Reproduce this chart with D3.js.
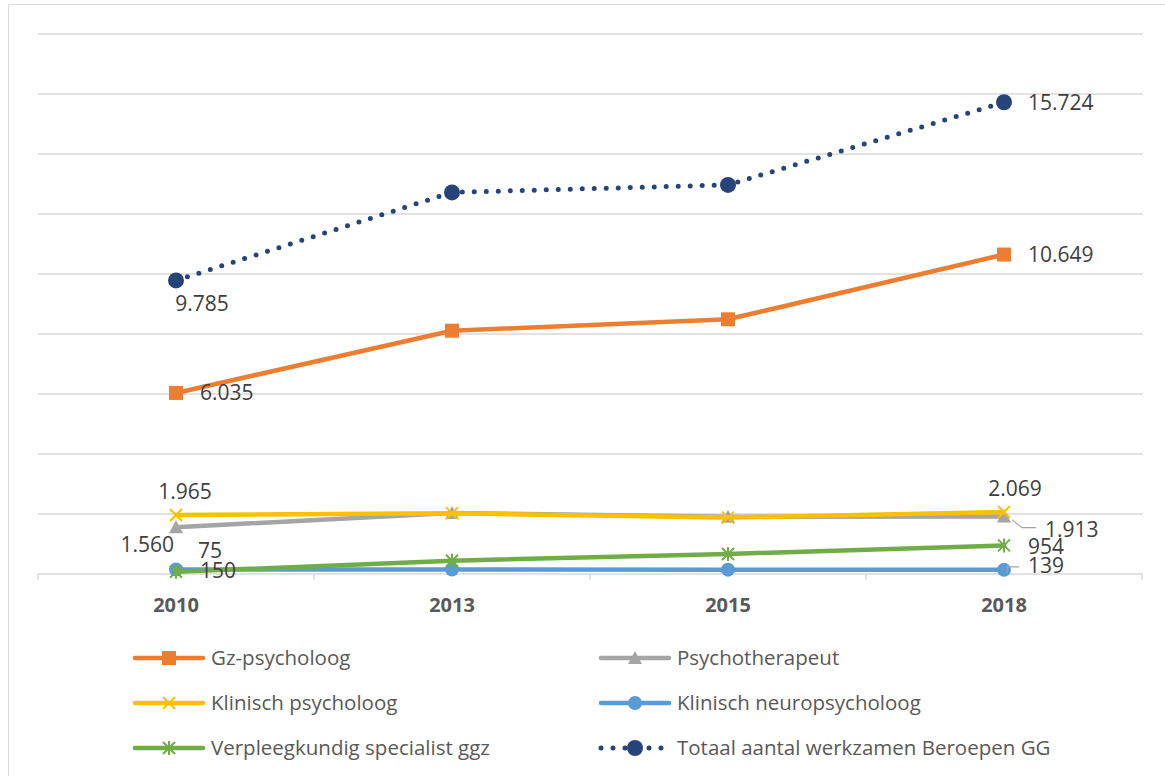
<!DOCTYPE html>
<html>
<head>
<meta charset="utf-8">
<script src="https://cdn.jsdelivr.net/npm/d3@7"></script>
<style>
  body { margin: 0; background: #fff; }
  svg { display: block; font-family: "Open Sans", "Noto Sans", sans-serif; }
</style>
</head>
<body>
<svg id="chart" width="1165" height="776"></svg>
<script>
const years = ["2010", "2013", "2015", "2018"];
const gzPsycholoog = [6035, 8110, 8490, 10649];
const psychotherapeut = [1560, 2030, 1910, 1913];
const klinischPsycholoog = [1965, 2025, 1880, 2069];
const klinischNeuro = [150, 150, 145, 139];
const verpleegkundig = [75, 443, 667, 954];
const totaal = [9785, 12720, 12970, 15724];
const yTicks = [0, 2000, 4000, 6000, 8000, 10000, 12000, 14000, 16000, 18000];

const series = [
  { name: "Gz-psycholoog", values: gzPsycholoog, color: "#ED7D31", marker: "square" },
  { name: "Psychotherapeut", values: psychotherapeut, color: "#A5A5A5", marker: "triangle" },
  { name: "Klinisch psycholoog", values: klinischPsycholoog, color: "#FFC000", marker: "x" },
  { name: "Klinisch neuropsycholoog", values: klinischNeuro, color: "#5B9BD5", marker: "circle" },
  { name: "Verpleegkundig specialist ggz", values: verpleegkundig, color: "#70AD47", marker: "star" },
  { name: "Totaal aantal werkzamen Beroepen GG", values: totaal, color: "#264478", marker: "bigcircle", dotted: true }
];

// which points carry a data label, and where it goes
const dataLabels = [
  { s: 5, i: 0, pos: "below", dx: 26, anchor: "middle" },
  { s: 5, i: 3, pos: "right" },
  { s: 0, i: 0, pos: "right" },
  { s: 0, i: 3, pos: "right" },
  { s: 2, i: 0, pos: "above", dx: 9 },
  { s: 2, i: 3, pos: "above", dx: 11 },
  { s: 1, i: 0, pos: "left", dy: 17 },
  { s: 1, i: 3, pos: "right", dx: 17, dy: 13, leader: true },
  { s: 4, i: 0, pos: "above", dx: 34, dy: 2 },
  { s: 4, i: 3, pos: "right", dy: 1 },
  { s: 3, i: 0, pos: "right", dy: 1 },
  { s: 3, i: 3, pos: "right", dy: -4, leader: true }
];

const fmt = v => d3.format(",")(v).replace(/,/g, ".");

const svg = d3.select("#chart");

// outer frame
svg.append("path")
  .attr("d", "M8.5,776 V4.5 H1165")
  .attr("fill", "none").attr("stroke", "#D9D9D9").attr("stroke-width", 1);

const x = d3.scalePoint().domain(years).range([38, 1142]).padding(0.5);
const y = d3.scaleLinear().domain([0, 18000]).range([574, 34]);

// gridlines
svg.append("g")
  .selectAll("line")
  .data(yTicks.slice(1))
  .join("line")
  .attr("x1", 38).attr("x2", 1143)
  .attr("y1", d => y(d)).attr("y2", d => y(d))
  .attr("stroke", "#D9D9D9").attr("stroke-width", 1.5);

// category axis
const bandW = (1142 - 38) / years.length;
const xAxis = svg.append("g");
xAxis.append("line")
  .attr("x1", 38).attr("x2", 1143).attr("y1", y(0)).attr("y2", y(0))
  .attr("stroke", "#D9D9D9").attr("stroke-width", 1.5);
xAxis.selectAll("line.tick")
  .data(d3.range(years.length + 1))
  .join("line").attr("class", "tick")
  .attr("x1", d => 38 + d * bandW).attr("x2", d => 38 + d * bandW)
  .attr("y1", y(0)).attr("y2", y(0) + 6)
  .attr("stroke", "#D9D9D9").attr("stroke-width", 1.5);
xAxis.selectAll("text")
  .data(years)
  .join("text")
  .attr("x", d => x(d)).attr("y", 612)
  .attr("text-anchor", "middle")
  .attr("font-size", 20).attr("font-weight", "bold")
  .attr("fill", "#595959")
  .text(d => d);

function drawMarker(g, type, color) {
  if (type === "square") {
    g.append("rect").attr("x", -7).attr("y", -7).attr("width", 14).attr("height", 14).attr("fill", color);
  } else if (type === "triangle") {
    g.append("path").attr("d", "M0,-7 L7,6 L-7,6 Z").attr("fill", color);
  } else if (type === "x") {
    g.append("path").attr("d", "M-6,-6 L6,6 M6,-6 L-6,6").attr("stroke", color).attr("stroke-width", 2);
  } else if (type === "star") {
    g.append("path").attr("d", "M-6,-6 L6,6 M6,-6 L-6,6 M0,-7 V7").attr("stroke", color).attr("stroke-width", 2);
  } else if (type === "circle") {
    g.append("circle").attr("r", 7).attr("fill", color);
  } else if (type === "bigcircle") {
    g.append("circle").attr("r", 8).attr("fill", color);
  }
}

const line = d3.line().x((d, i) => x(years[i])).y(d => y(d));

series.forEach(s => {
  const g = svg.append("g");
  g.append("path")
    .attr("d", line(s.values))
    .attr("fill", "none")
    .attr("stroke", s.color)
    .attr("stroke-width", s.dotted ? 5 : 4.5)
    .attr("stroke-linecap", "round")
    .attr("stroke-linejoin", "round")
    .attr("stroke-dasharray", s.dotted ? "0,12" : null);
  s.values.forEach((v, i) => {
    const m = g.append("g").attr("transform", `translate(${x(years[i])},${y(v)})`);
    drawMarker(m, s.marker, s.color);
  });
});

// data labels
const labG = svg.append("g").attr("font-size", 21).attr("fill", "#404040");
dataLabels.forEach(l => {
  const s = series[l.s];
  const px = x(years[l.i]), py = y(s.values[l.i]);
  let tx = px, ty = py, anchor = "middle";
  if (l.pos === "right") { tx = px + 24; anchor = "start"; }
  if (l.pos === "left") { tx = px - 2; anchor = "end"; }
  if (l.pos === "above") { ty = py - 23; }
  if (l.pos === "below") { ty = py + 23; }
  tx += l.dx || 0;
  ty += l.dy || 0;
  if (l.leader) {
    svg.append("path")
      .attr("d", l.s === 1
        ? `M${px + 8},${py + 3} L${px + 18},${py + 11} H${px + 32}`
        : `M${px + 3},${py + 3} V${py - 3} H${px + 15}`)
      .attr("fill", "none").attr("stroke", "#A5A5A5").attr("stroke-width", 1.2);
  }
  labG.append("text")
    .attr("x", tx).attr("y", ty)
    .attr("dy", "0.35em")
    .attr("text-anchor", anchor)
    .text(fmt(s.values[l.i]));
});

// legend
const legendCols = [133, 599];
const legendRows = [658, 703, 748];
const legG = svg.append("g");
series.forEach((s, k) => {
  const lx = legendCols[k % 2], ly = legendRows[Math.floor(k / 2)];
  const g = legG.append("g").attr("transform", `translate(${lx},${ly})`);
  g.append("line")
    .attr("x1", 2).attr("x2", 70)
    .attr("stroke", s.color)
    .attr("stroke-width", s.dotted ? 5 : 4.5)
    .attr("stroke-linecap", "round")
    .attr("stroke-dasharray", s.dotted ? "0,12" : null);
  const m = g.append("g").attr("transform", "translate(36,0)");
  drawMarker(m, s.marker, s.color);
  g.append("text")
    .attr("x", 78).attr("dy", "0.35em")
    .attr("font-size", 20.5).attr("fill", "#595959")
    .text(s.name);
});
</script>
</body>
</html>
